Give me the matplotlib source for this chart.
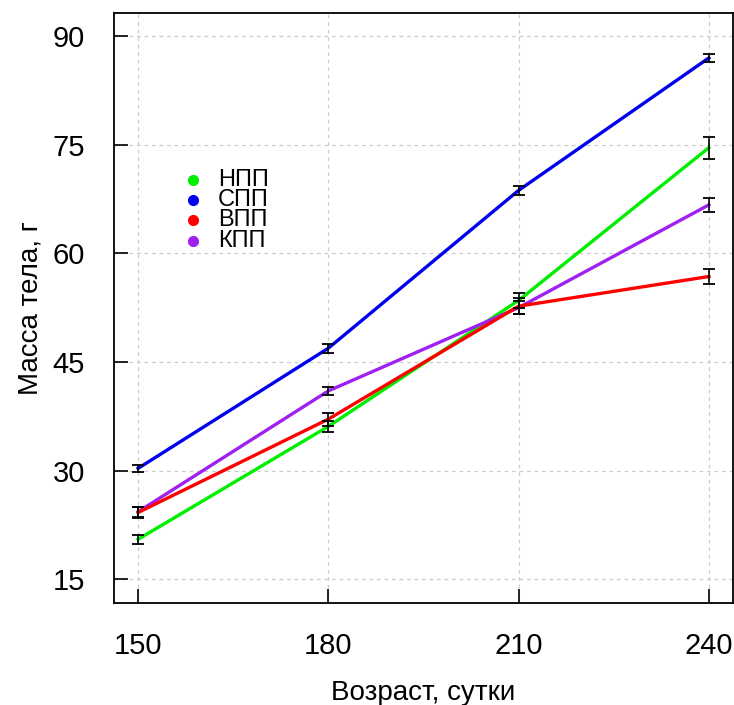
import matplotlib
matplotlib.use("Agg")
import matplotlib.pyplot as plt

ages = [150, 180, 210, 240]
series_names = ["НПП", "СПП", "ВПП", "КПП"]
colors = ["#00ee00", "#0000ee", "#ff0000", "#a020f0"]
npp = [20.5, 36.1, 53.5, 74.6]
spp = [30.3, 46.9, 68.7, 87.0]
vpp = [24.2, 37.1, 52.7, 56.8]
kpp = [24.3, 41.0, 52.5, 66.7]
npp_err = [0.6, 0.8, 1.0, 1.5]
spp_err = [0.5, 0.6, 0.6, 0.6]
vpp_err = [0.7, 0.9, 1.1, 1.0]
kpp_err = [0.7, 0.6, 0.9, 1.0]
yticks = [15, 30, 45, 60, 75, 90]

plt.rcParams['font.family'] = ['Liberation Sans', 'DejaVu Sans']

fig = plt.figure(figsize=(7.34, 7.05), dpi=100)
ax = fig.add_axes([114/734, 1 - 603/705, (733-114)/734, (603-13)/705])

vals = [npp, spp, vpp, kpp]
errs = [npp_err, spp_err, vpp_err, kpp_err]
order = [1, 0, 3, 2]
for i in order:
    ax.plot(ages, vals[i], color=colors[i], lw=2.4, zorder=3)
for i in order:
    ax.errorbar(ages, vals[i], yerr=errs[i], fmt='none', ecolor='black',
                elinewidth=1.2, capsize=4.5, capthick=1.3, zorder=4)

ax.set_xlim(146.2, 243.8)
ax.set_ylim(11.7, 93.2)
ax.set_xticks(ages)
ax.set_yticks(yticks)
ax.tick_params(direction='in', length=10, width=1.2, labelsize=21, colors='black')
ax.tick_params(axis='y', pad=21)
ax.tick_params(axis='x', pad=21)
ax.grid(True, color='#cccccc', linestyle=(0, (3, 3)), lw=0.9)
ax.set_axisbelow(True)
for s in ax.spines.values():
    s.set_linewidth(1.3)

ax.set_xlabel("Возраст, сутки", fontsize=20, labelpad=14)
ax.set_ylabel("Масса тела, г", fontsize=20, labelpad=6)

# legend
leg_y = [0.717, 0.683, 0.649, 0.614]
for name, c, y in zip(series_names, colors, leg_y):
    ax.plot([0.1276], [y], marker='o', ls='none', color=c, markersize=7,
            transform=ax.transAxes, clip_on=False, zorder=5)
    ax.text(0.168, y, name, transform=ax.transAxes, fontsize=17,
            va='center', ha='left', color='black')

fig.savefig("out.png", dpi=100)
